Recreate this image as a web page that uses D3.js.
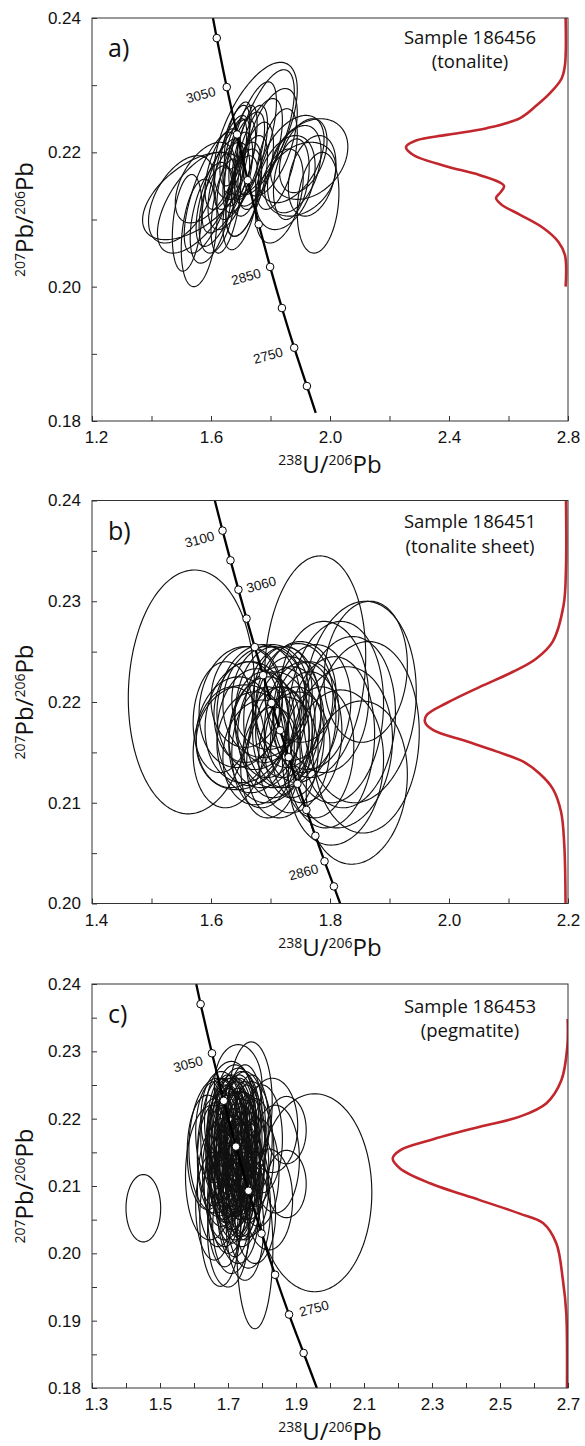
<!DOCTYPE html>
<html>
<head>
<meta charset="utf-8">
<script src="https://cdn.jsdelivr.net/npm/d3@7"></script>
<style>
  body { margin: 0; background: #fff; }
  svg { display: block; }
</style>
</head>
<body>
<svg id="chart" width="585" height="1446"></svg>
<script>
// ---------- Panel a: sample 186456 (tonalite) ----------
const xMajorA = [1.2, 1.6, 2.0, 2.4, 2.8];
const xMinorA = [1.4, 1.8, 2.2, 2.6];
const yMajorA = [0.18, 0.20, 0.22, 0.24];
const yMinorA = [0.19, 0.21, 0.23];
// error ellipses: [238U/206Pb, 207Pb/206Pb, half-width x, half-height y, correlation]
const ellipsesA = [
  [1.540, 0.2135, 0.170, 0.0065, 0.55],
  [1.550, 0.2125, 0.130, 0.0075, 0.60],
  [1.520, 0.2095, 0.050, 0.0072, 0.30],
  [1.560, 0.2080, 0.060, 0.0080, 0.30],
  [1.600, 0.2140, 0.090, 0.0090, 0.70],
  [1.580, 0.2155, 0.100, 0.0060, 0.50],
  [1.620, 0.2115, 0.060, 0.0065, 0.40],
  [1.670, 0.2185, 0.060, 0.0070, 0.60],
  [1.690, 0.2170, 0.050, 0.0060, 0.50],
  [1.700, 0.2195, 0.055, 0.0075, 0.65],
  [1.660, 0.2150, 0.070, 0.0065, 0.50],
  [1.720, 0.2160, 0.050, 0.0055, 0.40],
  [1.650, 0.2120, 0.050, 0.0070, 0.50],
  [1.730, 0.2200, 0.060, 0.0070, 0.60],
  [1.680, 0.2210, 0.050, 0.0060, 0.60],
  [1.710, 0.2140, 0.060, 0.0065, 0.50],
  [1.640, 0.2175, 0.060, 0.0060, 0.55],
  [1.750, 0.2180, 0.060, 0.0065, 0.50],
  [1.690, 0.2225, 0.045, 0.0050, 0.60],
  [1.750, 0.2232, 0.140, 0.0102, 0.60],
  [1.780, 0.2230, 0.100, 0.0093, 0.65],
  [1.740, 0.2220, 0.080, 0.0085, 0.65],
  [1.800, 0.2215, 0.090, 0.0080, 0.55],
  [1.930, 0.2190, 0.130, 0.0060, 0.30],
  [1.900, 0.2160, 0.120, 0.0055, 0.30],
  [1.960, 0.2125, 0.070, 0.0075, 0.20],
  [1.880, 0.2175, 0.090, 0.0065, 0.40],
  [1.850, 0.2155, 0.100, 0.0070, 0.35],
  [1.910, 0.2195, 0.080, 0.0055, 0.40],
  [1.830, 0.2135, 0.080, 0.0070, 0.40],
  [1.870, 0.2190, 0.110, 0.0065, 0.45],
  [1.700, 0.2180, 0.080, 0.0080, 0.70],
  [1.660, 0.2165, 0.090, 0.0085, 0.70],
  [1.720, 0.2150, 0.070, 0.0075, 0.60],
  [1.630, 0.2140, 0.080, 0.0080, 0.65],
  [1.760, 0.2200, 0.080, 0.0080, 0.60],
  [1.700, 0.2125, 0.060, 0.0070, 0.50],
  [1.600, 0.2110, 0.070, 0.0075, 0.50],
  [1.820, 0.2190, 0.070, 0.0075, 0.50],
  [1.870, 0.2160, 0.060, 0.0060, 0.30],
  [1.940, 0.2165, 0.080, 0.0060, 0.30],
  [1.500, 0.2130, 0.110, 0.0065, 0.50],
  [1.680, 0.2195, 0.040, 0.0055, 0.60]
];
// concordia age marks (Ma) and their Tera-Wasserburg ratios
const agesA   = [3100, 3050, 3000, 2950, 2900, 2850, 2800, 2750, 2700];
const u238A   = [1.6194, 1.6529, 1.6875, 1.7233, 1.7603, 1.7987, 1.8384, 1.8796, 1.9224];
const pb207A  = [0.23701, 0.22971, 0.22266, 0.21585, 0.20929, 0.20294, 0.19682, 0.19091, 0.18520];
const concordiaEndsA = [[1.6066, 0.2400], [1.9520, 0.1812]];
const labelAgesA = [3050, 2850, 2750];
// relative probability curve: 207Pb/206Pb and normalised density
const probYA = [0.2400, 0.2330, 0.2310, 0.2288, 0.2270, 0.2251, 0.2236, 0.2226, 0.2218, 0.2208, 0.2196,
                0.2179, 0.2166, 0.2150, 0.2140, 0.2132, 0.2122, 0.2107, 0.2087, 0.2067, 0.2047, 0.2000];
const probDA = [0, 0.004, 0.025, 0.098, 0.181, 0.285, 0.494, 0.745, 0.933, 1.0, 0.954,
                0.745, 0.537, 0.386, 0.410, 0.436, 0.401, 0.285, 0.138, 0.046, 0.004, 0];

// ---------- Panel b: sample 186451 (tonalite sheet) ----------
const xMajorB = [1.4, 1.6, 1.8, 2.0, 2.2];
const xMinorB = [1.5, 1.7, 1.9, 2.1];
const yMajorB = [0.20, 0.21, 0.22, 0.23, 0.24];
const yMinorB = [0.205, 0.215, 0.225, 0.235];
const ellipsesB = [
  [1.567, 0.2210, 0.106, 0.0121, 0.05],
  [1.775, 0.2235, 0.085, 0.0110, 0.10],
  [1.850, 0.2200, 0.095, 0.0100, 0.10],
  [1.845, 0.2120, 0.085, 0.0081, 0.10],
  [1.860, 0.2165, 0.090, 0.0095, 0.05],
  [1.810, 0.2135, 0.080, 0.0077, 0.10],
  [1.830, 0.2180, 0.080, 0.0085, 0.10],
  [1.790, 0.2205, 0.075, 0.0075, 0.00],
  [1.800, 0.2160, 0.075, 0.0085, 0.10],
  [1.860, 0.2230, 0.070, 0.0070, 0.10],
  [1.680, 0.2195, 0.070, 0.0062, 0.10],
  [1.700, 0.2190, 0.060, 0.0065, 0.10],
  [1.720, 0.2185, 0.065, 0.0070, 0.05],
  [1.660, 0.2180, 0.070, 0.0060, 0.10],
  [1.690, 0.2170, 0.060, 0.0055, 0.10],
  [1.730, 0.2175, 0.060, 0.0060, 0.10],
  [1.710, 0.2160, 0.055, 0.0055, 0.10],
  [1.670, 0.2160, 0.060, 0.0050, 0.05],
  [1.750, 0.2180, 0.060, 0.0060, 0.10],
  [1.650, 0.2195, 0.070, 0.0060, 0.10],
  [1.700, 0.2205, 0.065, 0.0052, 0.05],
  [1.740, 0.2200, 0.065, 0.0058, 0.10],
  [1.680, 0.2150, 0.060, 0.0052, 0.10],
  [1.720, 0.2145, 0.060, 0.0060, 0.10],
  [1.760, 0.2165, 0.060, 0.0065, 0.10],
  [1.640, 0.2170, 0.065, 0.0055, 0.10],
  [1.660, 0.2205, 0.060, 0.0050, 0.05],
  [1.720, 0.2205, 0.050, 0.0050, 0.10],
  [1.690, 0.2185, 0.050, 0.0045, 0.00],
  [1.740, 0.2160, 0.050, 0.0055, 0.10],
  [1.630, 0.2155, 0.060, 0.0060, 0.10],
  [1.650, 0.2165, 0.075, 0.0052, 0.10],
  [1.700, 0.2140, 0.050, 0.0055, 0.10],
  [1.770, 0.2195, 0.065, 0.0062, 0.10],
  [1.780, 0.2150, 0.060, 0.0065, 0.10],
  [1.620, 0.2185, 0.050, 0.0055, 0.10],
  [1.750, 0.2210, 0.060, 0.0050, 0.00],
  [1.690, 0.2200, 0.070, 0.0055, 0.05],
  [1.710, 0.2175, 0.065, 0.0060, 0.10],
  [1.730, 0.2190, 0.055, 0.0055, 0.05],
  [1.670, 0.2175, 0.060, 0.0058, 0.10],
  [1.700, 0.2165, 0.070, 0.0065, 0.10],
  [1.740, 0.2150, 0.060, 0.0060, 0.10],
  [1.660, 0.2190, 0.055, 0.0050, 0.05],
  [1.720, 0.2170, 0.045, 0.0045, 0.00],
  [1.690, 0.2155, 0.055, 0.0060, 0.10],
  [1.760, 0.2185, 0.055, 0.0055, 0.10],
  [1.810, 0.2190, 0.080, 0.0090, 0.10],
  [1.820, 0.2155, 0.085, 0.0080, 0.10]
];
const agesB  = [3100, 3080, 3060, 3040, 3020, 3000, 2980, 2960, 2940, 2920, 2900, 2880, 2860, 2840];
const u238B  = [1.6194, 1.6327, 1.6461, 1.6597, 1.6735, 1.6875, 1.7016, 1.7160, 1.7305, 1.7453, 1.7603, 1.7754, 1.7908, 1.8065];
const pb207B = [0.23701, 0.23406, 0.23115, 0.22828, 0.22545, 0.22266, 0.21990, 0.21719, 0.21452, 0.21188, 0.20929, 0.20672, 0.20419, 0.20170];
const concordiaEndsB = [[1.6064, 0.2400], [1.8171, 0.2000]];
const labelAgesB = [3100, 3060, 2860];
const probYB = [0.2400, 0.2333, 0.2296, 0.2260, 0.2243, 0.2230, 0.2215, 0.2199, 0.2187, 0.2180,
                0.2172, 0.2161, 0.2151, 0.2141, 0.2129, 0.2114, 0.2091, 0.2058, 0.2000];
const probDB = [0, 0, 0.017, 0.094, 0.212, 0.376, 0.611, 0.846, 0.988, 1.0,
                0.941, 0.706, 0.494, 0.306, 0.188, 0.094, 0.035, 0.012, 0.003];

// ---------- Panel c: sample 186453 (pegmatite) ----------
const xMajorC = [1.3, 1.5, 1.7, 1.9, 2.1, 2.3, 2.5, 2.7];
const xMinorC = [1.4, 1.6, 1.8, 2.0, 2.2, 2.4, 2.6];
const yMajorC = [0.18, 0.19, 0.20, 0.21, 0.22, 0.23, 0.24];
const yMinorC = [0.185, 0.195, 0.205, 0.215, 0.225, 0.235];
const ellipsesC = [
  [1.451, 0.2067, 0.051, 0.0050, 0.00],
  [1.955, 0.2090, 0.168, 0.0147, 0.00],
  [1.779, 0.2008, 0.053, 0.0120, 0.00],
  [1.765, 0.2220, 0.065, 0.0094, 0.05],
  [1.706, 0.2200, 0.075, 0.0085, 0.05],
  [1.872, 0.2183, 0.058, 0.0050, 0.00],
  [1.872, 0.2103, 0.058, 0.0050, 0.00],
  [1.677, 0.2051, 0.060, 0.0100, 0.00],
  [1.760, 0.2068, 0.065, 0.0090, 0.00],
  [1.650, 0.2120, 0.075, 0.0100, 0.05],
  [1.665, 0.2160, 0.080, 0.0100, 0.05],
  [1.840, 0.2140, 0.070, 0.0080, 0.00],
  [1.830, 0.2190, 0.075, 0.0070, 0.00],
  [1.820, 0.2080, 0.070, 0.0075, 0.00],
  [1.700, 0.2030, 0.060, 0.0080, 0.00],
  [1.730, 0.2250, 0.070, 0.0060, 0.00],
  [1.700, 0.2150, 0.060, 0.0095, 0.00],
  [1.720, 0.2160, 0.060, 0.0100, 0.05],
  [1.740, 0.2140, 0.055, 0.0090, 0.00],
  [1.680, 0.2170, 0.060, 0.0090, 0.00],
  [1.710, 0.2120, 0.065, 0.0085, 0.00],
  [1.730, 0.2180, 0.055, 0.0085, 0.05],
  [1.750, 0.2160, 0.060, 0.0095, 0.00],
  [1.690, 0.2130, 0.050, 0.0080, 0.00],
  [1.720, 0.2100, 0.060, 0.0080, 0.00],
  [1.740, 0.2110, 0.055, 0.0085, 0.00],
  [1.700, 0.2180, 0.055, 0.0080, 0.00],
  [1.760, 0.2130, 0.060, 0.0080, 0.00],
  [1.670, 0.2140, 0.060, 0.0085, 0.00],
  [1.730, 0.2200, 0.060, 0.0075, 0.00],
  [1.710, 0.2140, 0.045, 0.0070, 0.00],
  [1.750, 0.2190, 0.060, 0.0080, 0.00],
  [1.690, 0.2100, 0.060, 0.0080, 0.00],
  [1.770, 0.2170, 0.060, 0.0085, 0.00],
  [1.720, 0.2130, 0.050, 0.0075, 0.00],
  [1.740, 0.2080, 0.055, 0.0070, 0.00],
  [1.680, 0.2200, 0.060, 0.0070, 0.00],
  [1.700, 0.2080, 0.055, 0.0080, 0.00],
  [1.760, 0.2100, 0.060, 0.0075, 0.00],
  [1.660, 0.2180, 0.055, 0.0075, 0.00],
  [1.780, 0.2150, 0.055, 0.0080, 0.00],
  [1.710, 0.2170, 0.050, 0.0070, 0.00],
  [1.730, 0.2060, 0.060, 0.0075, 0.00],
  [1.750, 0.2040, 0.055, 0.0080, 0.00],
  [1.690, 0.2060, 0.050, 0.0080, 0.00],
  [1.720, 0.2190, 0.050, 0.0065, 0.00],
  [1.740, 0.2170, 0.045, 0.0070, 0.00],
  [1.700, 0.2110, 0.050, 0.0065, 0.00],
  [1.670, 0.2100, 0.060, 0.0090, 0.00],
  [1.790, 0.2120, 0.060, 0.0080, 0.00],
  [1.800, 0.2170, 0.060, 0.0080, 0.00],
  [1.640, 0.2150, 0.060, 0.0085, 0.00],
  [1.720, 0.2220, 0.055, 0.0060, 0.00],
  [1.780, 0.2060, 0.060, 0.0075, 0.00],
  [1.660, 0.2070, 0.055, 0.0080, 0.00],
  [1.710, 0.2040, 0.055, 0.0070, 0.00],
  [1.750, 0.2210, 0.050, 0.0070, 0.00],
  [1.700, 0.2160, 0.055, 0.0090, 0.00],
  [1.715, 0.2150, 0.050, 0.0085, 0.00],
  [1.730, 0.2150, 0.055, 0.0095, 0.00],
  [1.690, 0.2170, 0.050, 0.0080, 0.00],
  [1.745, 0.2155, 0.050, 0.0085, 0.00],
  [1.705, 0.2130, 0.050, 0.0075, 0.00],
  [1.725, 0.2120, 0.050, 0.0080, 0.00],
  [1.710, 0.2190, 0.055, 0.0070, 0.00],
  [1.735, 0.2165, 0.050, 0.0075, 0.00],
  [1.685, 0.2145, 0.050, 0.0075, 0.00],
  [1.760, 0.2150, 0.050, 0.0085, 0.00],
  [1.695, 0.2115, 0.050, 0.0070, 0.00],
  [1.745, 0.2125, 0.050, 0.0070, 0.00],
  [1.720, 0.2175, 0.040, 0.0065, 0.00],
  [1.680, 0.2120, 0.055, 0.0080, 0.00],
  [1.750, 0.2100, 0.050, 0.0080, 0.00],
  [1.710, 0.2090, 0.050, 0.0075, 0.00],
  [1.730, 0.2140, 0.040, 0.0060, 0.00],
  [1.700, 0.2200, 0.050, 0.0065, 0.00],
  [1.740, 0.2200, 0.055, 0.0070, 0.00],
  [1.770, 0.2190, 0.050, 0.0075, 0.00],
  [1.660, 0.2150, 0.050, 0.0080, 0.00],
  [1.690, 0.2080, 0.050, 0.0070, 0.00],
  [1.730, 0.2100, 0.050, 0.0070, 0.00],
  [1.720, 0.2065, 0.045, 0.0070, 0.00],
  [1.705, 0.2165, 0.045, 0.0080, 0.00],
  [1.725, 0.2155, 0.045, 0.0085, 0.00],
  [1.715, 0.2135, 0.045, 0.0080, 0.00],
  [1.735, 0.2130, 0.045, 0.0080, 0.00],
  [1.695, 0.2150, 0.045, 0.0085, 0.00],
  [1.755, 0.2170, 0.045, 0.0080, 0.00],
  [1.685, 0.2185, 0.045, 0.0075, 0.00],
  [1.745, 0.2145, 0.040, 0.0075, 0.00],
  [1.715, 0.2110, 0.045, 0.0075, 0.00],
  [1.735, 0.2185, 0.045, 0.0075, 0.00],
  [1.700, 0.2125, 0.040, 0.0070, 0.00],
  [1.760, 0.2120, 0.045, 0.0075, 0.00],
  [1.680, 0.2160, 0.045, 0.0080, 0.00],
  [1.725, 0.2095, 0.045, 0.0070, 0.00],
  [1.710, 0.2205, 0.045, 0.0060, 0.00],
  [1.740, 0.2090, 0.045, 0.0070, 0.00]
];
const agesC  = [3100, 3050, 3000, 2950, 2900, 2850, 2800, 2750, 2700];
const u238C  = [1.6194, 1.6529, 1.6875, 1.7233, 1.7603, 1.7987, 1.8384, 1.8796, 1.9224];
const pb207C = [0.23701, 0.22971, 0.22266, 0.21585, 0.20929, 0.20294, 0.19682, 0.19091, 0.18520];
const concordiaEndsC = [[1.6066, 0.2400], [1.9613, 0.1800]];
const labelAgesC = [3050, 2750];
const probYC = [0.2348, 0.2307, 0.2257, 0.2223, 0.2203, 0.2188, 0.2168, 0.2153, 0.2141,
                0.2126, 0.2104, 0.2079, 0.2059, 0.2045, 0.2015, 0.1960, 0.1911, 0.1800];
const probDC = [0, 0.002, 0.036, 0.121, 0.274, 0.502, 0.787, 0.958, 1.0,
                0.958, 0.787, 0.502, 0.274, 0.141, 0.065, 0.027, 0.008, 0.004];

// ---------- layout ----------
const plotLeft = 92, plotRight = 568;
const panels = [
  {
    top: 18, bottom: 421, xDomain: [1.2, 2.8], yDomain: [0.18, 0.24],
    xMajor: xMajorA, xMinor: xMinorA, yMajor: yMajorA, yMinor: yMinorA,
    ellipses: ellipsesA, ages: agesA, u238: u238A, pb207: pb207A, ends: concordiaEndsA,
    labels: labelAgesA, labelOffsets: [[-26, 8], [-24, 10], [-26, 8]],
    probY: probYA, probD: probDA, probBase: 2.792, probPeak: 2.2555,
    letter: "a)", sample: "Sample 186456", rock: "(tonalite)", textDy: [26, 50]
  },
  {
    top: 500.5, bottom: 903.5, xDomain: [1.4, 2.2], yDomain: [0.20, 0.24],
    xMajor: xMajorB, xMinor: xMinorB, yMajor: yMajorB, yMinor: yMinorB,
    ellipses: ellipsesB, ages: agesB, u238: u238B, pb207: pb207B, ends: concordiaEndsB,
    labels: labelAgesB, labelOffsets: [[-23, 9], [23, -5], [-21, 11]],
    probY: probYB, probD: probDB, probBase: 2.1966, probPeak: 1.9597,
    letter: "b)", sample: "Sample 186451", rock: "(tonalite sheet)", textDy: [27.5, 52.5]
  },
  {
    top: 984, bottom: 1388, xDomain: [1.3, 2.7], yDomain: [0.18, 0.24],
    xMajor: xMajorC, xMinor: xMinorC, yMajor: yMajorC, yMinor: yMinorC,
    ellipses: ellipsesC, ages: agesC, u238: u238C, pb207: pb207C, ends: concordiaEndsC,
    labels: labelAgesC, labelOffsets: [[-24, 11], [25, -6]],
    probY: probYC, probD: probDC, probBase: 2.699, probPeak: 2.1844,
    letter: "c)", sample: "Sample 186453", rock: "(pegmatite)", textDy: [29, 53]
  }
];

const svg = d3.select("#chart");
const sansTick = "'Liberation Sans', Arial, sans-serif";
const sansTitle = "'Open Sans', 'Noto Sans', sans-serif";
const ring = d3.range(0, 360, 2).map(d => d * Math.PI / 180);

// isotope ratio label with superscript mass numbers
function ratioText(sel, parts, big, small) {
  parts.forEach(([txt, sup]) => {
    sel.append("tspan")
      .attr("font-size", sup ? small : big)
      .attr("dy", sup ? -8 : 8)
      .text(txt);
  });
}

panels.forEach((p, i) => {
  const g = svg.append("g");
  const x = d3.scaleLinear().domain(p.xDomain).range([plotLeft, plotRight]);
  const y = d3.scaleLinear().domain(p.yDomain).range([p.bottom, p.top]);

  const clipId = "plot-clip-" + i;
  g.append("clipPath").attr("id", clipId)
    .append("rect")
    .attr("x", plotLeft).attr("y", p.top)
    .attr("width", plotRight - plotLeft).attr("height", p.bottom - p.top);

  const plot = g.append("g").attr("clip-path", `url(#${clipId})`);

  // error ellipses
  const closed = d3.line().curve(d3.curveLinearClosed);
  plot.append("g").selectAll("path").data(p.ellipses).join("path")
    .attr("d", ([cx, cy, sx, sy, r]) => {
      const k = Math.sqrt(1 - r * r);
      return closed(ring.map(t => [
        x(cx + sx * Math.cos(t)),
        y(cy + sy * (r * Math.cos(t) + k * Math.sin(t)))
      ]));
    })
    .attr("fill", "none")
    .attr("stroke", "#111")
    .attr("stroke-width", 1.15);

  // concordia curve
  const cPts = [p.ends[0], ...p.u238.map((u, j) => [u, p.pb207[j]]), p.ends[1]];
  plot.append("path")
    .attr("d", d3.line().x(d => x(d[0])).y(d => y(d[1])).curve(d3.curveCatmullRom)(cPts))
    .attr("fill", "none")
    .attr("stroke", "#000")
    .attr("stroke-width", 2.3);

  // age markers
  plot.append("g").selectAll("circle").data(p.ages).join("circle")
    .attr("cx", (d, j) => x(p.u238[j]))
    .attr("cy", (d, j) => y(p.pb207[j]))
    .attr("r", 3.8)
    .attr("fill", "#fff")
    .attr("stroke", "#000")
    .attr("stroke-width", 1);

  // age labels
  p.labels.forEach((age, j) => {
    const idx = p.ages.indexOf(age);
    const lx = x(p.u238[idx]) + p.labelOffsets[j][0];
    const ly = y(p.pb207[idx]) + p.labelOffsets[j][1];
    g.append("text")
      .attr("transform", `translate(${lx},${ly}) rotate(-15)`)
      .attr("text-anchor", "middle")
      .attr("dominant-baseline", "central")
      .attr("font-family", sansTick)
      .attr("font-size", 13.5)
      .attr("fill", "#111")
      .text(age);
  });

  // relative probability curve
  const dens = d3.scaleLinear().domain([0, 1]).range([p.probBase, p.probPeak]);
  const probPts = p.probY.map((v, j) => [dens(p.probD[j]), v]);
  plot.append("path")
    .attr("d", d3.line().x(d => x(d[0])).y(d => y(d[1])).curve(d3.curveCatmullRom.alpha(0.5))(probPts))
    .attr("fill", "none")
    .attr("stroke", "#c1272d")
    .attr("stroke-width", 2.6);

  // axes with inward ticks
  const fx = d3.format(".1f"), fy = d3.format(".2f");
  const axX = g.append("g").attr("transform", `translate(0,${p.bottom})`)
    .call(d3.axisBottom(x).tickValues(p.xMajor).tickFormat(fx).tickSize(-5).tickPadding(10));
  const axXm = g.append("g").attr("transform", `translate(0,${p.bottom})`)
    .call(d3.axisBottom(x).tickValues(p.xMinor).tickFormat("").tickSize(-5));
  const axY = g.append("g").attr("transform", `translate(${plotLeft},0)`)
    .call(d3.axisLeft(y).tickValues(p.yMajor).tickFormat(fy).tickSize(-5).tickPadding(11));
  const axYm = g.append("g").attr("transform", `translate(${plotLeft},0)`)
    .call(d3.axisLeft(y).tickValues(p.yMinor).tickFormat("").tickSize(-5));
  [axX, axXm, axY, axYm].forEach(a => {
    a.select(".domain").remove();
    a.selectAll(".tick line").attr("stroke", "#333");
    a.selectAll("text").attr("font-family", sansTick).attr("font-size", 17).attr("fill", "#111");
  });
  axX.selectAll(".tick").filter((d, j) => j === 0).select("text").attr("dx", 4);

  // frame
  g.append("rect")
    .attr("x", plotLeft).attr("y", p.top)
    .attr("width", plotRight - plotLeft).attr("height", p.bottom - p.top)
    .attr("fill", "none").attr("stroke", "#333").attr("stroke-width", 1);

  // axis titles
  const xt = g.append("text")
    .attr("x", (plotLeft + plotRight) / 2).attr("y", p.bottom + 52)
    .attr("text-anchor", "middle")
    .attr("font-family", sansTitle).attr("fill", "#111");
  ratioText(xt, [["238", true], ["U/", false], ["206", true], ["Pb", false]], 24, 14);

  const yt = g.append("text")
    .attr("transform", `translate(33,${(p.top + p.bottom) / 2}) rotate(-90)`)
    .attr("text-anchor", "middle")
    .attr("font-family", sansTitle).attr("fill", "#111");
  ratioText(yt, [["207", true], ["Pb/", false], ["206", true], ["Pb", false]], 24, 14);

  // panel letter and sample name
  g.append("text")
    .attr("x", 108).attr("y", p.top + 39)
    .attr("font-family", sansTitle).attr("font-size", 25).attr("fill", "#111")
    .text(p.letter);
  g.append("text")
    .attr("x", 470).attr("y", p.top + p.textDy[0])
    .attr("text-anchor", "middle")
    .attr("font-family", sansTitle).attr("font-size", 18.5).attr("fill", "#111")
    .text(p.sample);
  g.append("text")
    .attr("x", 470).attr("y", p.top + p.textDy[1])
    .attr("text-anchor", "middle")
    .attr("font-family", sansTitle).attr("font-size", 18.5).attr("fill", "#111")
    .text(p.rock);
});
</script>
</body>
</html>
